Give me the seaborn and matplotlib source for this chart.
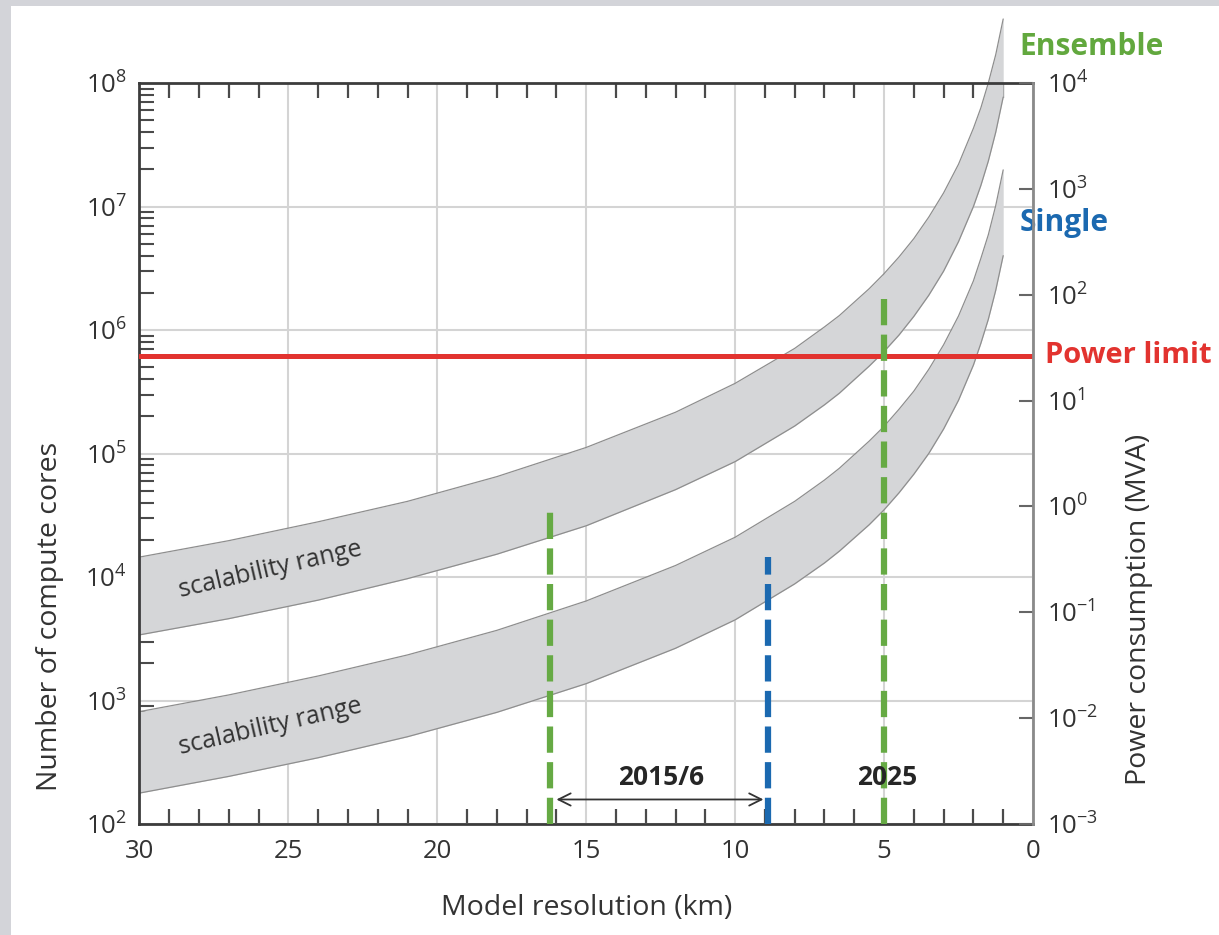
import numpy as np
import pandas as pd
import matplotlib
matplotlib.use("Agg")
import matplotlib.pyplot as plt
import seaborn as sns
from matplotlib.ticker import MultipleLocator, FixedLocator, LogLocator, NullLocator, NullFormatter, FuncFormatter
from matplotlib.patches import Rectangle

km = [30, 27, 24, 21, 18, 15, 12, 10, 8, 7, 6.5, 5.5, 5, 4.5, 4, 3.5, 3, 2.5, 2, 1.75, 1.5, 1.25, 1.0]

# Ensemble scalability range (compute cores)
ens_top = [1.45e4, 1.97e4, 2.8e4, 4.1e4, 6.5e4, 1.12e5, 2.16e5, 3.7e5, 7.1e5, 1.06e6, 1.31e6, 2.16e6,
           2.86e6, 3.9e6, 5.5e6, 8.2e6, 1.29e7, 2.2e7, 4.3e7, 6.3e7, 1.0e8, 1.7e8, 3.3e8]
ens_bot = [3.4e3, 4.6e3, 6.5e3, 9.7e3, 1.53e4, 2.6e4, 5.1e4, 8.6e4, 1.67e5, 2.48e5, 3.08e5, 5.1e5,
           6.7e5, 9.1e5, 1.29e6, 1.91e6, 3.0e6, 5.2e6, 1.0e7, 1.48e7, 2.33e7, 4.0e7, 7.7e7]

# Single-run scalability range (compute cores)
sgl_top = [813, 1.11e3, 1.58e3, 2.34e3, 3.7e3, 6.4e3, 1.24e4, 2.1e4, 4.1e4, 6.1e4, 7.6e4, 1.26e5,
           1.66e5, 2.28e5, 3.2e5, 4.8e5, 7.6e5, 1.3e6, 2.5e6, 3.8e6, 5.9e6, 1.02e7, 1.98e7]
sgl_bot = [178, 243, 344, 509, 802, 1.37e3, 2.65e3, 4.5e3, 8.8e3, 1.3e4, 1.62e4, 2.65e4,
           3.5e4, 4.8e4, 6.8e4, 1.0e5, 1.58e5, 2.7e5, 5.2e5, 7.8e5, 1.22e6, 2.1e6, 4.0e6]

power_limit = 6.2e5

# vertical dashed markers: resolution, top value, colour
markers_km = [16.2, 8.9, 5.0]
markers_top = [3.8e4, 1.45e4, 1.9e6]
markers_col = ["#66aa44", "#1b69b0", "#66aa44"]

cores_ticks = [1e2, 1e3, 1e4, 1e5, 1e6, 1e7, 1e8]
power_ticks = [1e-3, 1e-2, 1e-1, 1e0, 1e1, 1e2, 1e3, 1e4]

green = "#62a83e"
blue = "#1b69b0"
red = "#e2332f"

sns.set_theme(style="white")
plt.rcParams["font.family"] = ["Open Sans", "DejaVu Sans"]
plt.rcParams["mathtext.fontset"] = "custom"
plt.rcParams["mathtext.rm"] = "Open Sans"
plt.rcParams["mathtext.it"] = "Open Sans:italic"
plt.rcParams["mathtext.bf"] = "Open Sans:bold"

fig = plt.figure(figsize=(12.19, 9.35), dpi=100)
fig.add_artist(Rectangle((0, 0), 0.009, 1, transform=fig.transFigure, color="#d3d4d9", lw=0))
fig.add_artist(Rectangle((0, 0.994), 1, 0.006, transform=fig.transFigure, color="#d3d4d9", lw=0))
ax = fig.add_axes([0.1144, 0.1187, 0.733, 0.7925])

df = pd.DataFrame({"km": km, "ens_top": ens_top, "ens_bot": ens_bot,
                   "sgl_top": sgl_top, "sgl_bot": sgl_bot})

for top, bot in [("ens_top", "ens_bot"), ("sgl_top", "sgl_bot")]:
    band = ax.fill_between(df["km"], df[bot], df[top], color="#d5d6d8", lw=0, zorder=1.5)
    band.set_clip_on(False)
    for col in (top, bot):
        sns.lineplot(data=df, x="km", y=col, ax=ax, color="#8e8e8e", lw=0.9,
                     clip_on=False, zorder=1.6)

ax.set_yscale("log")
ax.set_xlim(30, 0)
ax.set_ylim(1e2, 1e8)

ax.axhline(power_limit, color=red, lw=3.6, zorder=3)

for x, top, c in zip(markers_km, markers_top, markers_col):
    ax.plot([x, x], [1e2, top], color=c, lw=4.5, dashes=(4.2, 1.5), zorder=4, clip_on=False)

ax.annotate("", xy=(9.05, 158), xytext=(16.0, 158),
            arrowprops=dict(arrowstyle="<->", color="#333333", lw=1.3,
                            mutation_scale=22, shrinkA=0, shrinkB=0), zorder=5)
ax.text(12.5, 240, "2015/6", ha="center", va="center", fontsize=19,
        fontweight="bold", color="#262626", zorder=5)
ax.text(4.9, 240, "2025", ha="center", va="center", fontsize=19,
        fontweight="bold", color="#262626", zorder=5)

ax.text(25.6, 1.15e4, "scalability range", ha="center", va="center", rotation=13,
        fontsize=18, color="#333333", zorder=5)
ax.text(25.6, 615, "scalability range", ha="center", va="center", rotation=13,
        fontsize=18, color="#333333", zorder=5)

ax.text(0.45, 1.95e8, "Ensemble", ha="left", va="center", fontsize=21.5,
        fontweight="bold", color=green, clip_on=False)
ax.text(0.45, 7.4e6, "Single", ha="left", va="center", fontsize=21.5,
        fontweight="bold", color=blue, clip_on=False)
ax.text(-0.4, power_limit, "Power limit", ha="left", va="center", fontsize=21,
        fontweight="bold", color=red, clip_on=False)

# grid and ticks
ax.grid(True, which="major", color="#d4d4d4", lw=1.5)
ax.set_axisbelow(True)
ax.xaxis.set_major_locator(MultipleLocator(5))
ax.xaxis.set_minor_locator(MultipleLocator(1))
ax.yaxis.set_major_locator(FixedLocator(cores_ticks))
ax.yaxis.set_minor_locator(LogLocator(base=10, subs=np.arange(2, 10), numticks=20))
ax.yaxis.set_minor_formatter(NullFormatter())
decade = FuncFormatter(lambda v, p: r"$\mathregular{10^{%d}}$" % round(np.log10(v)))
ax.yaxis.set_major_formatter(decade)
ax.tick_params(axis="x", which="major", length=0, labelsize=18.5, pad=11, colors="#333333")
ax.tick_params(axis="x", which="minor", direction="in", length=11, width=1.6,
               color="#4a4a4a", top=True, bottom=True)
ax.tick_params(axis="y", which="major", length=0, labelsize=18.5, pad=9, colors="#333333")
ax.tick_params(axis="y", which="minor", direction="in", length=11, width=1.5,
               color="#4a4a4a", left=True, right=False)

for s in ["left", "bottom", "top"]:
    ax.spines[s].set_color("#3c3c3c")
    ax.spines[s].set_linewidth(2)
ax.spines["right"].set_visible(False)

ax.set_xlabel("Model resolution (km)", fontsize=20.5, color="#333333")
ax.xaxis.set_label_coords(0.5, -0.094)
ax.set_ylabel("Number of compute cores", fontsize=20.5, color="#333333")
ax.yaxis.set_label_coords(-0.084, 0.28)

ax2 = ax.twinx()
ax2.set_yscale("log")
ax2.set_ylim(1e-3, 1e4)
ax2.yaxis.set_major_locator(FixedLocator(power_ticks))
ax2.yaxis.set_minor_locator(NullLocator())
ax2.yaxis.set_major_formatter(decade)
ax2.tick_params(axis="y", which="major", direction="in", length=10, width=1.5,
                color="#666666", labelsize=18.5, pad=10, labelcolor="#333333")
for s in ["left", "bottom", "top"]:
    ax2.spines[s].set_visible(False)
ax2.spines["right"].set_color("#8a8a8a")
ax2.spines["right"].set_linewidth(2)
ax2.set_ylabel("Power consumption (MVA)", fontsize=20.5, color="#333333")
ax2.yaxis.set_label_coords(1.103, 0.29)

fig.savefig("out.png", dpi=100)
